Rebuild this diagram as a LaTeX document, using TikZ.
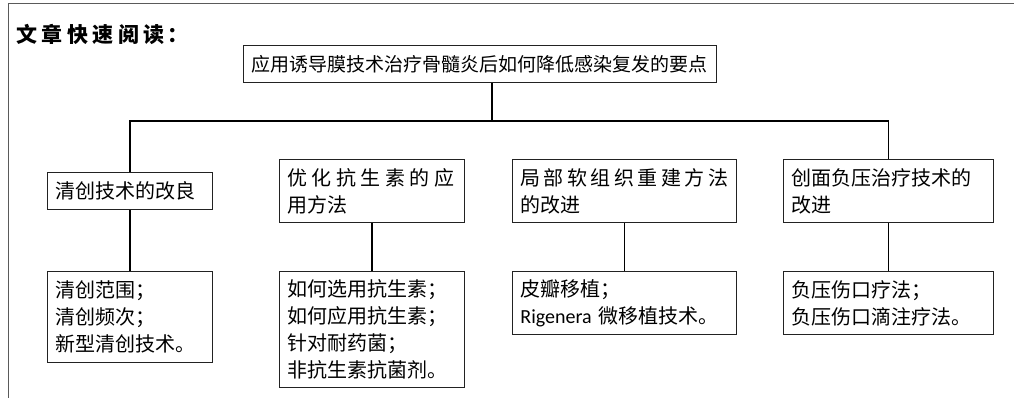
\documentclass[tikz,border=0pt]{standalone}
\usepackage{fontspec}
\setmainfont{Noto Sans CJK SC}
\newfontfamily\latinfont{Carlito}
\usetikzlibrary{positioning}
\definecolor{framegray}{HTML}{5A5A5A}
\definecolor{boxline}{HTML}{222222}
\tikzset{
  box/.style={draw=boxline, line width=0.9pt, anchor=north west, inner xsep=8pt, inner ysep=0pt,
    align=left, font=\fontsize{20}{27}\selectfont},
  conn/.style={draw=black, line width=1.3pt},
}
\begin{document}
\begin{tikzpicture}[x=1pt,y=-1pt]
\useasboundingbox (0,0) rectangle (1014,398);
\draw[framegray, line width=1pt] (8,398) -- (8,4) -- (1014,4);
\node[anchor=west, inner sep=0pt, font=\fontsize{21}{24}\bfseries\selectfont] (title) at (16,34)
  {文\hspace{4.5pt}章\hspace{4.5pt}快\hspace{4.5pt}速\hspace{4.5pt}阅\hspace{4.5pt}读\hspace{3pt}：};
\node[draw=boxline, line width=0.9pt, anchor=north west, minimum width=473pt, minimum height=37pt,
  inner sep=0pt, font=\fontsize{19}{22}\selectfont] (root) at (243,45)
  {应用诱导膜技术治疗骨髓炎后如何降低感染复发的要点};
% second level
\node[box, minimum height=37pt, text width=149pt] (b1) at (47,172) {清创技术的改良};
\node[box, minimum height=63pt, text width=169pt] (b2) at (279,159)
  {\makebox[167pt][s]{优\hfill 化\hfill 抗\hfill 生\hfill 素\hfill 的\hfill 应}\\用方法};
\node[box, minimum height=63pt, text width=208pt] (b3) at (512,159)
  {\makebox[208pt][s]{局\hfill 部\hfill 软\hfill 组\hfill 织\hfill 重\hfill 建\hfill 方\hfill 法}\\的改进};
\node[box, minimum height=63pt, text width=194pt] (b4) at (783,159) {创面负压治疗技术的\\改进};
% leaves
\node[box, minimum height=91pt, text width=149pt] (l1) at (47,271) {清创范围；\\清创频次；\\新型清创技术。};
\node[box, minimum height=116pt, text width=169pt] (l2) at (279,271)
  {如何选用抗生素；\\如何应用抗生素；\\针对耐药菌；\\非抗生素抗菌剂。};
\node[box, minimum height=63pt, text width=208pt] (l3) at (512,271)
  {皮瓣移植；\\{\latinfont Rigenera} 微移植技术。};
\node[box, minimum height=63pt, text width=194pt] (l4) at (783,271)
  {负压伤口疗法；\\负压伤口滴注疗法。};
% connectors
\coordinate (rj) at (492,121);
\draw[conn] (root.south -| rj) -- (rj);
\draw[conn] (b1.north) -- (b1.north |- rj) -| (b4.north);
\draw[conn] (b1.south) -- (l1.north);
\draw[conn] (b2.south) -- (l2.north);
\draw[conn] (b3.south) -- (l3.north);
\draw[conn] (b4.south) -- (l4.north);
\end{tikzpicture}
\end{document}
